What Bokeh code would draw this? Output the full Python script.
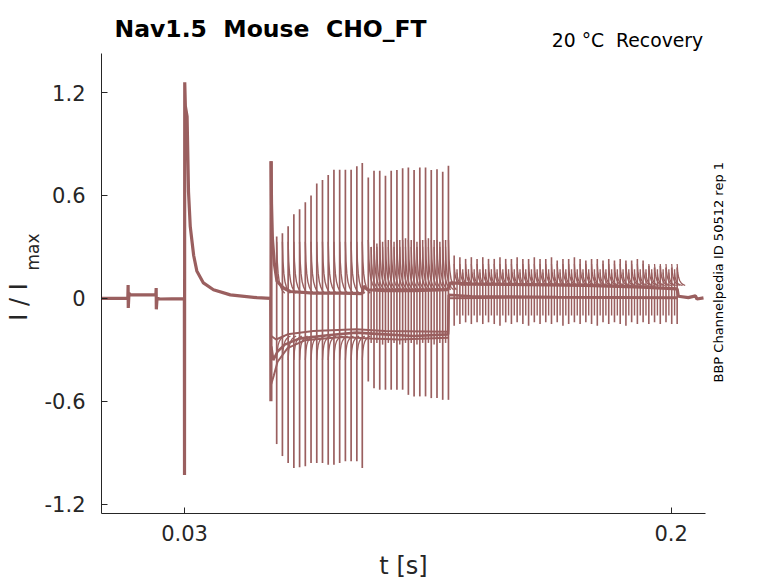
import math
from bokeh.plotting import figure
from bokeh.models import Range1d, FixedTicker, LinearAxis, Title
from bokeh.embed import file_html
from bokeh.resources import INLINE

# ---------------- data ----------------
X0, X1 = 0.001, 0.212
Y0, Y1 = -1.255, 1.428

x_ticks = [0.03, 0.2]
x_tick_labels = ["0.03", "0.2"]
y_ticks = [-1.2, -0.6, 0.0, 0.6, 1.2]
y_tick_labels = ["-1.2", "-0.6", "0", "0.6", "1.2"]

# common start of every sweep (holding, small step, first pulse, decay)
pre_t = [0.0010, 0.0102, 0.0103, 0.01035, 0.0106, 0.0110, 0.0200, 0.0201, 0.02015, 0.0204,
         0.0215, 0.0298, 0.02995, 0.0300, 0.03008, 0.0303, 0.0309, 0.0314, 0.0320, 0.0332,
         0.0343, 0.0366, 0.0401, 0.0460, 0.0553, 0.0600, 0.06010, 0.06018, 0.06025]
pre_v = [0.000, 0.000, 0.077, -0.056, 0.030, 0.022, 0.020, 0.060, -0.064, 0.000,
         -0.004, -0.002, 0.000, -1.03, 1.26, 1.12, 1.06, 0.62, 0.42, 0.25,
         0.16, 0.09, 0.05, 0.02, 0.004, 0.000, 0.000, -0.60, 0.80]

# upper band (sweeps near zero after the second pulse)
up_t = [0.06025, 0.0604, 0.0607, 0.0614, 0.0623, 0.0646, 0.0669, 0.0750, 0.0850, 0.0921,
        0.0925, 0.0940, 0.1000, 0.1100, 0.1220, 0.1230, 0.1300, 0.1500, 0.1700, 0.1900,
        0.2021, 0.2025, 0.2060, 0.2085, 0.2090, 0.2113]
up_v = [0.80, 0.55, 0.35, 0.20, 0.10, 0.06, 0.04, 0.03, 0.03, 0.028,
        0.07, 0.05, 0.045, 0.045, 0.05, 0.09, 0.085, 0.08, 0.075, 0.065,
        0.055, 0.012, 0.004, 0.014, -0.004, 0.003]

# lower band (sweeps with sustained inward current), three overlapping sweeps
low1_t = [0.0603, 0.0610, 0.0625, 0.0650, 0.0700, 0.0800, 0.0900, 0.1000, 0.1100, 0.1221,
          0.1223, 0.1300, 0.1600, 0.2021]
low1_v = [-0.28, -0.36, -0.31, -0.27, -0.235, -0.215, -0.20, -0.21, -0.22, -0.21,
          0.02, 0.012, 0.008, 0.004]
low2_t = [0.0603, 0.0612, 0.0625, 0.0660, 0.0720, 0.0850, 0.0950, 0.1050, 0.1221]
low2_v = [-0.50, -0.45, -0.37, -0.29, -0.245, -0.225, -0.235, -0.24, -0.23]
low3_t = [0.0603, 0.0620, 0.0660, 0.0750, 0.0900, 0.1000, 0.1221, 0.1223, 0.1500, 0.2021]
low3_v = [-0.22, -0.24, -0.21, -0.19, -0.18, -0.19, -0.195, 0.00, 0.005, 0.0]

# test-pulse transients, first group
r1_t = [0.0622, 0.0642, 0.0662, 0.0682, 0.0702, 0.0722, 0.0742, 0.0762,
        0.0782, 0.0802, 0.0822, 0.0842, 0.0862, 0.0882, 0.0902, 0.0921]
r1_top = [0.36, 0.38, 0.42, 0.49, 0.52, 0.56, 0.60, 0.67,
          0.69, 0.72, 0.75, 0.75, 0.75, 0.75, 0.77, 0.79]
r1_bot = [-0.85, -0.92, -0.96, -0.99, -0.985, -0.98, -0.96, -0.96,
          -0.96, -0.97, -0.97, -0.96, -0.95, -0.95, -0.95, -0.99]

# second group
r2_t = [0.0942, 0.0962, 0.0982, 0.1002, 0.1022, 0.1042, 0.1062, 0.1082,
        0.1102, 0.1122, 0.1142, 0.1162, 0.1182, 0.1202, 0.1222]
r2_top = [0.705, 0.744, 0.744, 0.715, 0.744, 0.748, 0.759, 0.763,
          0.748, 0.763, 0.763, 0.748, 0.753, 0.739, 0.773]
r2_bot = [-0.485, -0.524, -0.533, -0.533, -0.533, -0.533, -0.533, -0.563,
          -0.572, -0.572, -0.572, -0.582, -0.582, -0.592, -0.592]
r2b_t = [0.0952, 0.0972, 0.0992, 0.1012, 0.1032, 0.1052, 0.1072,
         0.1092, 0.1112, 0.1132, 0.1152, 0.1172, 0.1192, 0.1212]
r2b_top = [0.30, 0.32, 0.33, 0.34, 0.33, 0.34, 0.35, 0.34, 0.33, 0.34, 0.35, 0.34, 0.33, 0.34]
r2b_bot = [-0.26, -0.26, -0.27, -0.26, -0.26, -0.27, -0.26, -0.26, -0.27, -0.26, -0.26, -0.27, -0.26, -0.26]

# third group
r3_t = [0.1242, 0.1262, 0.1282, 0.1302, 0.1322, 0.1342, 0.1362, 0.1382, 0.1402, 0.1422,
        0.1442, 0.1462, 0.1482, 0.1502, 0.1522, 0.1542, 0.1562, 0.1582, 0.1602, 0.1622,
        0.1642, 0.1662, 0.1682, 0.1702, 0.1722, 0.1742, 0.1762, 0.1782, 0.1802, 0.1822,
        0.1842, 0.1862, 0.1882, 0.1902, 0.1922, 0.1942, 0.1962, 0.1982, 0.2002, 0.2021]
r3_top = [0.25, 0.24, 0.23, 0.24, 0.23, 0.24, 0.23, 0.23, 0.24, 0.23,
          0.23, 0.24, 0.23, 0.23, 0.24, 0.23, 0.23, 0.24, 0.22, 0.23,
          0.23, 0.24, 0.23, 0.22, 0.23, 0.23, 0.22, 0.23, 0.22, 0.23,
          0.22, 0.22, 0.23, 0.22, 0.19, 0.18, 0.19, 0.18, 0.18, 0.18]
r3_bot = [-0.16, -0.15, -0.14, -0.15, -0.14, -0.15, -0.14, -0.15, -0.16, -0.14,
          -0.15, -0.14, -0.15, -0.16, -0.14, -0.15, -0.14, -0.15, -0.14, -0.16,
          -0.15, -0.14, -0.15, -0.14, -0.15, -0.16, -0.14, -0.15, -0.14, -0.15,
          -0.16, -0.14, -0.15, -0.14, -0.15, -0.14, -0.15, -0.14, -0.15, -0.15]
r3b_t = [0.1252, 0.1272, 0.1292, 0.1312, 0.1332, 0.1352, 0.1372, 0.1392, 0.1412, 0.1432,
         0.1452, 0.1472, 0.1492, 0.1512, 0.1532, 0.1552, 0.1572, 0.1592, 0.1612, 0.1632,
         0.1652, 0.1672, 0.1692, 0.1712, 0.1732, 0.1752, 0.1772, 0.1792, 0.1812, 0.1832,
         0.1852, 0.1872, 0.1892, 0.1912, 0.1932, 0.1952, 0.1972, 0.1992, 0.2012]
r3b_top = [0.17] * 39
r3b_bot = [-0.10] * 39

# shape of the decaying tail after a transient (time offset, remaining fraction)
tail_dt = [0.0, 0.0002, 0.0005, 0.0009, 0.0014, 0.0020, 0.0028]
tail_frac = [1.0, 0.62, 0.38, 0.22, 0.12, 0.05, 0.0]

title_text = "Nav1.5  Mouse  CHO_FT"
info_text = "20 °C  Recovery"
side_text = "BBP Channelpedia ID 50512 rep 1"
x_label = "t [s]"
y_label_main = "I / I"
y_label_sub = "max"


def keep_spaces(s):
    # SVG collapses runs of spaces; keep the double gaps of the original
    return s.replace("  ", " \u00a0")


# ---------------- figure ----------------
COLOR = "#9a5f5f"
AX = "#262626"
FONT = "DejaVu Sans"

W, H = 778, 583
BL, BR, BT, BB = 101, 73, 53, 70
FL, FR, FT, FB = BL, W - BR, BT, H - BB


def px2x(px):
    return round(X0 + (px - FL) / (FR - FL) * (X1 - X0), 5)


def py2y(py):
    return round(Y1 - (py - FT) / (FB - FT) * (Y1 - Y0), 4)


p = figure(width=W, height=H, x_range=Range1d(X0, X1), y_range=Range1d(Y0, Y1),
           output_backend="svg", toolbar_location=None,
           min_border_left=BL, min_border_right=BR, min_border_top=BT, min_border_bottom=BB)
p.outline_line_color = None
p.grid.visible = False
p.background_fill_color = "white"
p.border_fill_color = "white"

# title
p.title = Title(text=keep_spaces(title_text), align="left", offset=13, standoff=-33,
                text_font=FONT, text_font_size="23.5px", text_font_style="bold",
                text_color="black")

for ax in (p.xaxis[0], p.yaxis[0]):
    ax.axis_line_color = AX
    ax.axis_line_width = 1
    ax.major_tick_line_color = AX
    ax.major_tick_in = 6
    ax.major_tick_out = 0
    ax.minor_tick_line_color = None
    ax.major_label_text_font = FONT
    ax.major_label_text_font_size = "21px"
    ax.major_label_text_color = AX

p.xaxis.ticker = FixedTicker(ticks=x_ticks)
p.xaxis.major_label_overrides = {t: s for t, s in zip(x_ticks, x_tick_labels)}
p.xaxis.major_label_standoff = 11
p.xaxis.axis_label = x_label
p.xaxis.axis_label_text_font = FONT
p.xaxis.axis_label_text_font_size = "24px"
p.xaxis.axis_label_text_font_style = "normal"
p.xaxis.axis_label_text_color = AX
p.xaxis.axis_label_standoff = 8
p.yaxis.ticker = FixedTicker(ticks=y_ticks)
p.yaxis.major_label_overrides = {t: s for t, s in zip(y_ticks, y_tick_labels)}
p.yaxis.major_label_standoff = 16


def text_axis(side, pos, text, size, standoff, orient, color):
    ax = LinearAxis(ticker=FixedTicker(ticks=[pos]), major_label_overrides={pos: text},
                    axis_line_color=None, major_tick_line_color=None,
                    minor_tick_line_color=None, major_tick_in=0, major_tick_out=0,
                    major_label_standoff=standoff, major_label_orientation=orient,
                    major_label_text_font=FONT, major_label_text_font_size=size,
                    major_label_text_color=color)
    p.add_layout(ax, side)
    return ax


# subscript and main part of the y label, outward from the tick labels
text_axis("left", py2y(251.5), y_label_sub, "17px", -2, "parallel", AX)
text_axis("left", py2y(301.5), y_label_main, "24px", -13, "parallel", AX)
# annotation line at the top right and the rotated id at the right (starts at its bottom)
text_axis("above", px2x(627), keep_spaces(info_text), "18.8px", 3, "horizontal", "black")
text_axis("right", py2y(382), side_text, "13px", 13, math.pi / 2, "black")

# ---- traces ----
p.line(pre_t, pre_v, line_color=COLOR, line_width=3.2)
p.line(up_t, up_v, line_color=COLOR, line_width=3.2)
p.line(low1_t, low1_v, line_color=COLOR, line_width=2.6)
p.line(low2_t, low2_v, line_color=COLOR, line_width=2.0)
p.line(low3_t, low3_v, line_color=COLOR, line_width=2.0)


def spikes(ts, tops, bots, w):
    p.multi_line([[t, t] for t in ts], [[b, u] for b, u in zip(bots, tops)],
                 line_color=COLOR, line_width=w)


def tails(ts, v0s, base, w):
    xs = [[t + d for d in tail_dt] for t in ts]
    ys = [[base + (v0 - base) * f for f in tail_frac] for v0 in v0s]
    p.multi_line(xs, ys, line_color=COLOR, line_width=w)


tails(r1_t, [min(u, 0.33) for u in r1_top], 0.03, 1.4)
tails(r1_t, [-0.36] * len(r1_t), -0.22, 1.3)
tails(r2_t, [0.34] * len(r2_t), 0.05, 1.4)
tails(r2b_t, [0.30] * len(r2b_t), 0.05, 1.3)
tails(r3_t, [0.20] * len(r3_t), 0.075, 1.3)
tails(r3b_t, [0.15] * len(r3b_t), 0.075, 1.2)

spikes(r1_t, r1_top, r1_bot, 1.7)
spikes(r2_t, r2_top, r2_bot, 1.7)
spikes(r2b_t, r2b_top, r2b_bot, 1.5)
spikes(r3_t, r3_top, r3_bot, 1.6)
spikes(r3b_t, r3b_top, r3b_bot, 1.4)

open("out.html", "w").write(file_html(p, INLINE))
